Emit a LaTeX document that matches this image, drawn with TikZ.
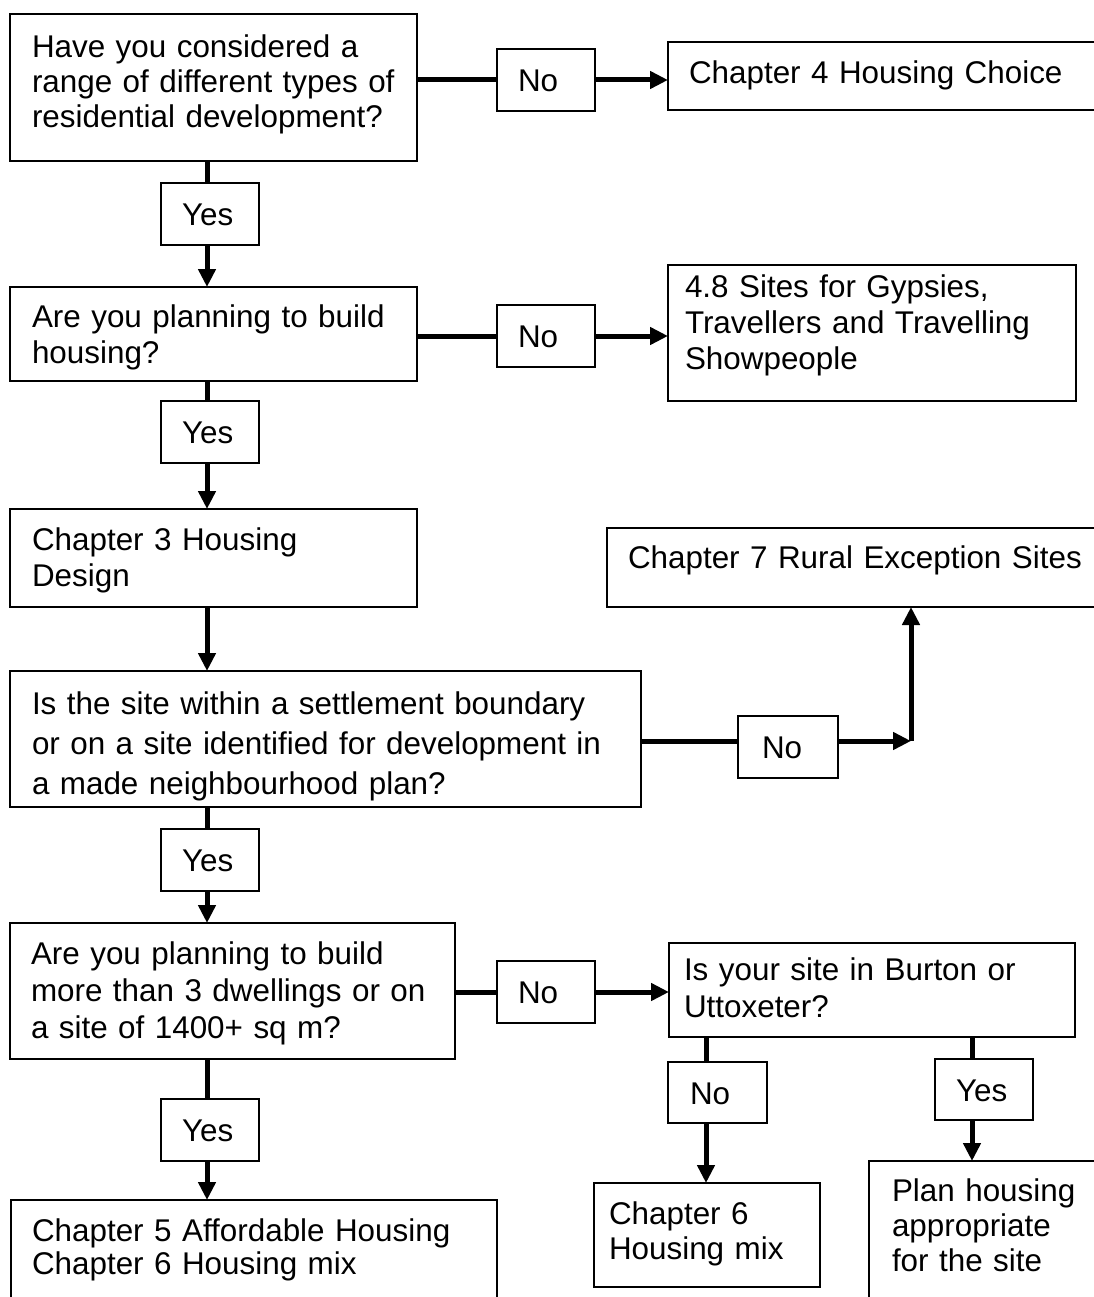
\documentclass[tikz,border=0pt]{standalone}
\usepackage{fontspec}
\setmainfont{Liberation Sans}
\usetikzlibrary{arrows.meta}
\newcommand\fsz[1]{\fontsize{31.4}{#1}\selectfont}
\begin{document}
\begin{tikzpicture}[x=1pt,y=-1pt,
  box/.style={draw, line width=1.6pt, anchor=north west, align=left, inner ysep=0pt, outer sep=0pt},
  lbl/.style={draw, line width=1.6pt, anchor=north west, align=left, inner ysep=0pt, outer sep=0pt,
              text height=23pt, text depth=0pt, font=\fsz{36}},
  conn/.style={line width=5pt},
  arr/.style={line width=5pt, -{Triangle[length=18pt,width=17pt]}}
]
\fill[white] (0,0) rectangle (1093,1297);
\useasboundingbox (0,0) rectangle (1093,1297);

% main boxes
\node[box, font=\fsz{35}, text width=363pt, inner xsep=22pt, text height=44pt, text depth=103pt] (q1) at (10,14)
  {Have you considered a\\range of different types of\\residential development?};
\node[box, font=\fsz{36}, text width=558pt, inner xsep=21pt, text height=42pt, text depth=26pt] (ch4) at (668,42)
  {Chapter 4 Housing Choice};
\node[box, font=\fsz{36}, text width=363pt, inner xsep=22pt, text height=40pt, text depth=54pt] (q2) at (10,287)
  {Are you planning to build\\housing?};
\node[box, font=\fsz{36}, text width=374pt, inner xsep=17pt, text height=32pt, text depth=104pt] (g48) at (668,265)
  {4.8 Sites for Gypsies,\\Travellers and Travelling\\Showpeople};
\node[box, font=\fsz{36}, text width=363pt, inner xsep=22pt, text height=41pt, text depth=57pt] (ch3) at (10,509)
  {Chapter 3 Housing\\Design};
\node[box, font=\fsz{36}, text width=558pt, inner xsep=21pt, text height=40pt, text depth=39pt] (ch7) at (607,528)
  {Chapter 7 Rural Exception Sites};
\node[box, font=\fsz{40}, text width=587pt, inner xsep=22pt, text height=43pt, text depth=93pt] (q3) at (10,671)
  {Is the site within a settlement boundary\\or on a site identified for development in\\a made neighbourhood plan?};
\node[box, font=\fsz{37}, text width=403pt, inner xsep=21pt, text height=41pt, text depth=95pt] (q4) at (10,923)
  {Are you planning to build\\more than 3 dwellings or on\\a site of 1400+ sq m?};
\node[box, font=\fsz{37}, text width=376pt, inner xsep=15pt, text height=37pt, text depth=57pt] (q5) at (669,943)
  {Is your site in Burton or\\Uttoxeter?};
\node[box, font=\fsz{35}, text width=196pt, inner xsep=15pt, text height=41pt, text depth=63pt] (ch6) at (594,1183)
  {Chapter 6\\Housing mix};
\node[box, font=\fsz{35}, text width=254pt, inner xsep=23pt, text height=40pt, text depth=300pt] (plan) at (869,1161)
  {Plan housing\\appropriate\\for the site};
\node[box, font=\fsz{33}, text width=444pt, inner xsep=21pt, text height=41pt, text depth=200pt] (ch5) at (11,1200)
  {Chapter 5 Affordable Housing\\Chapter 6 Housing mix};

% yes / no labels
\node[lbl, minimum height=62pt, text width=56pt, inner xsep=21pt] (no1) at (497,49) {No};
\node[lbl, minimum height=62pt, text width=56pt, inner xsep=21pt] (yes1) at (161,183) {Yes};
\node[lbl, minimum height=62pt, text width=56pt, inner xsep=21pt] (no2) at (497,305) {No};
\node[lbl, minimum height=62pt, text width=56pt, inner xsep=21pt] (yes2) at (161,401) {Yes};
\node[lbl, minimum height=62pt, text width=52pt, inner xsep=24pt] (no3) at (738,716) {No};
\node[lbl, minimum height=62pt, text width=56pt, inner xsep=21pt] (yes3) at (161,829) {Yes};
\node[lbl, minimum height=62pt, text width=56pt, inner xsep=21pt] (no4) at (497,961) {No};
\node[lbl, minimum height=62pt, text width=56pt, inner xsep=21pt] (yes4) at (161,1099) {Yes};
\node[lbl, minimum height=61pt, text width=55pt, inner xsep=22pt] (no5) at (668,1062) {No};
\node[lbl, minimum height=61pt, text width=56pt, inner xsep=21pt] (yes5) at (935,1059) {Yes};

% spines
\coordinate (sp) at (207,0);
\coordinate (s5) at (706,0);
\coordinate (s6) at (972,0);
\coordinate (k3) at (911,741);

% connectors
\draw[conn] (q1.east |- no1.west) -- (no1.west);
\draw[arr] (no1.east) -- (no1.east -| ch4.west);
\draw[conn] (q1.south -| sp) -- (yes1.north -| sp);
\draw[arr] (yes1.south -| sp) -- (q2.north -| sp);

\draw[conn] (q2.east |- no2.west) -- (no2.west);
\draw[arr] (no2.east) -- (no2.east -| g48.west);
\draw[conn] (q2.south -| sp) -- (yes2.north -| sp);
\draw[arr] (yes2.south -| sp) -- (ch3.north -| sp);

\draw[arr] (ch3.south -| sp) -- (q3.north -| sp);

\draw[conn] (q3.east |- k3) -- (no3.west |- k3);
\draw[arr] (no3.east |- k3) -- (k3);
\draw[arr] (k3) -- (k3 |- ch7.south);
\draw[conn] (q3.south -| sp) -- (yes3.north -| sp);
\draw[arr] (yes3.south -| sp) -- (q4.north -| sp);

\draw[conn] (q4.east |- no4.west) -- (no4.west);
\draw[arr] (no4.east) -- (no4.east -| q5.west);
\draw[conn] (q4.south -| sp) -- (yes4.north -| sp);
\draw[arr] (yes4.south -| sp) -- (ch5.north -| sp);

\draw[conn] (q5.south -| s5) -- (no5.north -| s5);
\draw[arr] (no5.south -| s5) -- (ch6.north -| s5);
\draw[conn] (q5.south -| s6) -- (yes5.north -| s6);
\draw[arr] (yes5.south -| s6) -- (plan.north -| s6);
\end{tikzpicture}
\end{document}
